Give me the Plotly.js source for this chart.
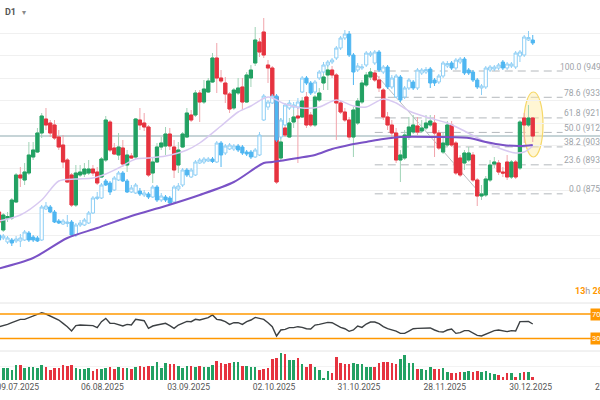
<!DOCTYPE html>
<html>
<head>
<meta charset="utf-8">
<script src="https://cdn.plot.ly/plotly-3.0.1.min.js"></script>
<style>
  html, body { margin: 0; padding: 0; background: #ffffff; }
  #chart { width: 600px; height: 400px; }
</style>
</head>
<body>
<div id="chart"></div>
<script>
// Daily bars, index 0 = oldest visible bar
const mainOpen = [864.8,854,861.2,861.2,870.8,887,884,888.2,897.8,900.8,
912.2,920.6,918.2,917,909.8,905,896,887,869,887,
887.6,888.2,890.6,888.8,885.8,896,918.8,903.2,899,903.2,
893,898.4,897.8,920,918.2,915.8,888.2,894.8,903.8,904.4,
911.6,903.8,893,903.8,909.8,923,923,936.2,930.8,936.8,
942.8,957.2,945.2,942.2,935.6,927.2,936.2,939.8,930.8,945.2,
954.2,966.8,972.8,953,951.2,933.8,897.2,915.2,909.8,918.8,
922.4,921.8,933.8,923,917,932,942.2,947,950,947,
930.2,924.8,920,909.8,918.2,930.8,941,945.8,948.2,944,
938,921.8,917,912.2,896,897.2,909.8,912.8,916.4,913.4,
915.2,917,918.2,912.2,900.8,905,917,906.2,897.2,894.2,
896,899,884,874.4,875,884,893.6,894.2,888.8,894.8,
885.8,894.8,891.2,921.2,917,921.2];
const mainHigh = [867.2,864.2,864.8,873.2,888.2,891.8,894.2,906.8,906.8,915.2,
924.2,927.2,920,920,914,911,897.2,888.2,893,893,
894.2,896,893,891.8,897.8,922.4,920,906.2,912.2,908,
902,900.2,921.2,927.2,924.2,917,897.8,906.2,909.8,915.8,
915.2,908,906.8,912.8,927.2,926,938,938,944,945.2,
960.2,966.2,950,945.8,936.8,939.2,945.2,945.2,948.8,953,
975.8,969.2,981.2,956,952.4,935,921.2,917,921.2,926,
930.2,933.8,936.8,924.8,935,939.2,948.8,953,952.4,948.2,
932,927.2,921.8,927.8,933.2,944,948.8,951.2,950,946.4,
939.2,924.8,920,915.2,902,914,921.8,923,921.8,920,
923,923,923,914,912.2,919.4,919.4,907.4,899,902,
903.8,900.8,885.2,881,886.4,896,897.8,896,891.8,899,
896,896,920,924.2,929,921.8];
const mainLow = [857.6,852.8,858.8,860,870.2,879.8,881,887,896,900.2,
909.2,914,909.8,908,902,891.2,882.2,867.8,867.8,885.8,
885.8,887,886.4,881,885.2,894.8,900.8,899,896,891.8,
888.8,896.6,896.6,914,913.4,885.8,882.2,894.2,902,899,
902,885.2,888.2,903.2,909.2,918.8,921.8,918.8,929.6,936.2,
942.2,936.2,942.2,930.2,924.2,926,935,926,930.2,939.8,
952.4,957.8,957.2,942.2,932,881.6,896,909.8,909.2,915.2,
894.2,921.2,915.2,915.8,915.8,930.8,938,938,945.2,908,
923.6,918.8,908,897.8,917,929.6,939.8,944,942.8,936.8,
920,914,909.2,894.2,882.8,896,908,911.6,911,912.2,
914,915.8,897.8,902,899.6,903.8,903.8,887,885.8,890,
894.8,882.8,868.4,872,873.8,882.8,891.2,887,885.8,884,
884.6,884.6,890,906.2,915.8,906.8];
const mainClose = [858.8,863,862.1,872,887,885.2,888.8,899,902,912.2,
922.4,917,912.2,909.2,903.8,894.8,882.8,869,888.2,888.8,
890.6,890.6,888.2,882.2,896.6,920,902,899.6,903.8,893.6,
899,897.2,920.6,917,915.8,887,894.8,903.8,906.2,911.6,
904.4,890,902,911.6,924.2,920,936.2,930.8,938.6,943.4,
957.2,945.2,943.4,935.6,926.6,938,939.2,930.8,947,950,
968,960.8,959,951.2,933.8,882.8,906.8,911,918.2,921.8,
921.2,931.4,917,917,933.8,936.2,945.8,950,947,930.2,
924.8,920,909.8,926,931.4,942.2,947,948.8,944,939.2,
921.8,917,912.2,896,899,911,915.8,917,912.8,915.2,
918.2,919.4,912.2,903.2,906.2,917,905,888.2,887,900.2,
900.2,884,874.4,875.6,884.6,893,894.8,888.8,888.2,885.8,
894.8,885.8,918.8,917,921.2,910.4];

// Comparison symbol, same price scale
const cmpOpen = [851,849.2,846.8,848,847.4,847.4,848,852.2,849.8,849.2,
848,866.6,867.8,864.8,859.4,857.6,857.9,858.8,851,857,
857,858.2,864.2,872.9,873.2,883.4,882.2,878,884,888.2,
883.4,876.8,876.2,877.4,875,875.6,873.8,879.8,872,873.8,
873.2,870.8,878.6,881,890,885.8,887,894.2,894.8,895.4,
896.6,894.8,906.2,900.2,902.6,902.6,904.4,903.8,900.8,900.8,
897.8,899,920,927.8,930.2,934.4,909.8,917,927.2,927.8,
927.8,936.8,945.2,942.2,936.8,945.2,948.8,953,954.8,957.2,
963.2,969.2,971.6,959,950,951.2,953,959,954.2,960.8,
948.8,951.8,939.8,933.8,945.8,933.8,939.2,942.8,939.2,948.2,
948.8,950.6,944,942.8,946.4,952.4,954.2,951.2,954.8,956.6,
950,948.8,944,939.2,939.8,950,950.6,951.2,954.8,951.2,
952.4,951.8,958.4,959,968,968];
const cmpHigh = [852.2,851.6,850.4,849.2,850.4,851.6,854,853.4,851,850.4,
869,870.8,869,866,860.6,860.6,863,860,858.2,860,
861.2,865.4,874.4,876.8,882.2,884.6,883.4,886.4,889.4,889.4,
884.6,881,882.2,879.2,878,876.8,881,881,876.2,875,
874.4,881,882.2,891.2,891.2,891.2,896,897.2,897.8,897.8,
897.8,907.4,907.4,905.6,906.2,905.6,905.6,905,902,902,
903.2,912.8,935.6,932,935.6,935.6,921.2,930.2,932,930.8,
933.2,946.4,946.4,943.4,944,950,954.8,956,957.2,964.4,
970.4,974,973.4,960.2,954.2,953.6,961.4,961.4,962,962,
953,953,947,947.6,947,940.4,945.2,944,951.2,951.2,
951.8,951.8,945.2,947.6,955.4,955.4,955.4,957.2,957.8,957.8,
951.2,950,945.2,941.6,952.4,953,953,954.2,956,954.8,
954.8,961.4,962,971,973.4,971];
const cmpLow = [846.8,848,845.6,844.4,846.2,843.8,847.4,846.8,846.8,846.8,
847.4,866,864.2,858.2,857.6,857,855.8,849.8,849.8,855.8,
856.4,857.6,863.6,872,872.6,880.4,875,877.4,883.4,882.8,
876.2,876.2,875.6,874.4,873.8,872.6,873.2,870.8,870.8,870.8,
869,869.6,877.4,879.8,885.8,885.2,886.4,893.6,893.6,894.8,
894.2,894.2,891.8,899,902,901.4,900.8,899,898.4,896.6,
897.2,898.4,919.4,926,929.6,906.8,908.6,916.4,926,926,
926.6,936.2,941,935,935.6,944,947.6,951.8,953.6,956,
962,968,957.8,941,948.8,950,951.8,957.8,953,948.8,
947.6,938.6,938.6,933.2,930.8,932.6,938,938,938,947,
947.6,939.2,940.4,941.6,945.2,951.2,950,950,953.6,947,
947,942.8,938.6,935,938.6,948.8,949.4,950,950,950,
951.2,950.6,954.8,957.8,967.4,965];
const cmpClose = [848,850.4,849.2,846.2,848.6,849.2,852.8,848,848,847.4,
867.8,868.4,864.8,858.8,858.2,859.4,858.8,851,857,858.2,
860,864.2,873.2,873.8,881,881,876.8,885.2,888.2,883.4,
876.8,879.2,881,875.6,876.2,873.8,879.8,872,874.4,872,
870.2,879.8,880.4,890,887,890,894.8,896,896.6,896.6,
895.1,906.2,899,904.4,905,904.4,902,900.2,899.6,897.8,
902,911,934.4,930.8,934.4,908,920,929,930.2,929,
930.8,945.2,942.2,936.2,942.8,948.8,953,954.8,956,963.2,
969.2,971.6,959,948.8,952.4,951.8,960.2,960.2,960.8,950,
951.8,939.8,945.2,946.4,932,939.2,944,939.2,950,950,
950.3,942.2,942.2,946.4,954.2,953.9,951.2,956,956.6,948.2,
948.2,944,939.8,940.4,951.2,951.8,951.8,953,951.2,953.6,
953.6,960.2,960.8,969.8,969.5,966.2];

// RSI(14) per bar
const rsi = [49.3,51,53,55.8,59.1,61.3,61.3,64,65.6,68.9,
72.2,70,66.7,64.5,60.2,54.8,49.3,42.2,51,52,
52,52,51,47.7,57.5,62.9,54.8,54.8,53.1,50.4,
53.1,52,61.3,60.2,59.1,46.6,50.4,52,53.7,54.8,
51,46.6,52,54.8,58,57.5,61.3,60.2,62.4,64,
68.4,61.3,60.2,57.5,53.1,55.8,55.8,53.1,57.5,60.2,
64.5,62.9,61.3,55.8,49.3,34.1,43.9,45,47.7,47.7,
49.3,48.2,46,45.5,52,53.1,54.8,56.4,55.8,51.5,
48.2,46,41.7,43.9,50.4,48.2,53.7,56.9,56.9,54.2,
49.3,46,44.4,42.2,38.4,38.4,42.2,46,46.6,46.6,
47.7,47.2,43.9,41.2,40.6,43.9,45.5,38.4,39.5,42.8,
42.8,38.4,35.2,34.1,37.3,40.6,42.8,43.9,42.2,41.2,
42.8,42.2,57.5,57.5,58,53.7];

// Tick volume per bar (thousands)
const volume = [11.7,11.7,11.7,10,15,15,11.7,12.7,12.7,12.3,
15,12.7,10,12.3,11.7,15,14.3,15,11.7,10.7,
10.7,11.7,9.3,10.7,10.7,11.7,12.7,10.7,12.7,11.7,
11.7,11,13.3,14.3,12.7,14.3,14,17.7,11.7,16.7,
15.7,15.7,14,11.7,14,14,13.3,14,13.3,12.7,
15,19.3,17.3,16,17.3,17.7,17.7,14,14,12.7,
12.7,10,11,11.7,20.7,21.7,26.7,26,20,20,
21.7,16,12.7,15.7,12.7,10,2,9.3,7.3,22.7,
17.3,16,16,17.3,16,16,13.3,12.7,12.7,17.3,
17.7,17.7,17.3,16,21,24.7,17.3,16.7,10.7,11.3,
10,12.7,10.7,10.7,11.7,8.3,7.3,6.7,8.3,8.3,
9.3,8.3,9.3,8.3,9.3,6.7,6,5,2.7,6.7,
6.7,2.7,7.3,7.7,7.7,3.3];

// Moving averages (bar index, price)
const maSlowX = [0,8,16,23,31,39,47,55,62,64,70,74,78,82,86,90,94,102,110,114,118,122,125];
const maSlowY = [830.9,837.2,849.2,855.2,862.4,868.4,875,882.8,894.2,894.8,897.2,899,902.6,905,906.8,908.6,909.8,909.8,909.2,906.8,905,904.4,905];
const maFastX = [0,5,10,14,18,22,25,28,32,35,39,44,47,52,56,59,63,67,71,75,79,83,86,90,93,96,100,105,109,113,117,121,123,125];
const maFastY = [859.4,863,872,883.4,884.6,885.2,887.6,891.2,896.6,897.2,898.4,902,906.2,916.4,924.8,928.4,933.8,929.6,927.2,927.8,932,928.4,927.8,932.6,930.2,925.4,921.8,918.2,913.4,908,903.2,900.2,900.8,904.4];

// Fibonacci retracement
const fibLevels = [0, 23.6, 38.2, 50, 61.8, 78.6, 100];
const fibLow = 875.7, fibHigh = 949.4;
const fibFrom = 88, fibTo = 132;

// Trend line and highlight ellipse (bar index, price)
const trendX = [88, 112.6];
const trendY = [948.2, 876.2];
const highlightX = [122.9, 127.4];
const highlightY = [897.8, 936.8];

// Date labels
const tickPos = [4.4, 24.2, 44.4, 64.4, 84.3, 104.4, 124.5];
const tickText = ['09.07.2025', '06.08.2025', '03.09.2025', '02.10.2025', '31.10.2025', '28.11.2025', '30.12.2025'];
const nextTickText = '27.01.2026';

// Horizontal grid on the price pane
const priceGrid = [972.2, 958.7, 945.2, 931.7, 918.2, 904.7, 891.2, 877.7, 864.2, 850.7, 837.2];

const FONT = '"Roboto", "Liberation Sans", sans-serif';
const GREEN = '#22a163', RED = '#e6333f';
const GREEN_WICK = '#9fd3b6', RED_WICK = '#f1a4ab';
const BLUE = '#4fb6f1', BLUE_LINE = '#8fcff5';
const ORANGE = '#ff9800';

const idx = mainOpen.map((_, i) => i);
const bodyHigh = mainOpen.map((o, i) => Math.max(o, mainClose[i]));
const bodyLow = mainOpen.map((o, i) => Math.min(o, mainClose[i]));
const volColors = mainOpen.map((o, i) => mainClose[i] >= o ? GREEN : RED);
const lastClose = mainClose[mainClose.length - 1];

const traces = [
  // wicks (lighter)
  {
    type: 'candlestick', x: idx, open: mainOpen, high: mainHigh, low: mainLow, close: mainClose,
    xaxis: 'x', yaxis: 'y', whiskerwidth: 0,
    increasing: { line: { color: GREEN_WICK, width: 1 }, fillcolor: GREEN_WICK },
    decreasing: { line: { color: RED_WICK, width: 1 }, fillcolor: RED_WICK },
    hoverinfo: 'skip'
  },
  // bodies
  {
    type: 'candlestick', x: idx, open: mainOpen, high: bodyHigh, low: bodyLow, close: mainClose,
    xaxis: 'x', yaxis: 'y', whiskerwidth: 0,
    increasing: { line: { color: GREEN, width: 1 }, fillcolor: GREEN },
    decreasing: { line: { color: RED, width: 1 }, fillcolor: RED },
    hoverinfo: 'skip'
  },
  // comparison symbol
  {
    type: 'candlestick', x: idx, open: cmpOpen, high: cmpHigh, low: cmpLow, close: cmpClose,
    xaxis: 'x', yaxis: 'y', whiskerwidth: 0,
    increasing: { line: { color: BLUE_LINE, width: 1 }, fillcolor: '#ffffff' },
    decreasing: { line: { color: BLUE, width: 1 }, fillcolor: BLUE },
    hoverinfo: 'skip'
  },
  {
    type: 'scatter', mode: 'lines', x: maFastX, y: maFastY, xaxis: 'x', yaxis: 'y',
    line: { color: '#d8c9f1', width: 1.5, shape: 'spline', smoothing: 0.8 }, hoverinfo: 'skip'
  },
  {
    type: 'scatter', mode: 'lines', x: maSlowX, y: maSlowY, xaxis: 'x', yaxis: 'y',
    line: { color: '#7a52c6', width: 2, shape: 'spline', smoothing: 0.8 }, hoverinfo: 'skip'
  },
  {
    type: 'scatter', mode: 'lines', x: idx, y: rsi, xaxis: 'x', yaxis: 'y2',
    line: { color: '#3c4043', width: 1.4 }, hoverinfo: 'skip'
  },
  {
    type: 'bar', x: idx, y: volume, xaxis: 'x', yaxis: 'y3', width: 0.6,
    marker: { color: volColors, line: { width: 0 } }, hoverinfo: 'skip'
  }
];

const shapes = [];
// pane separators
shapes.push({ type: 'line', xref: 'paper', yref: 'paper', x0: 0, x1: 1, y0: 0.2425, y1: 0.2425, line: { color: '#e4e4e4', width: 1 } });
shapes.push({ type: 'line', xref: 'paper', yref: 'paper', x0: 0, x1: 1, y0: 0.1225, y1: 0.1225, line: { color: '#e4e4e4', width: 1 } });
// last price line
shapes.push({ type: 'line', xref: 'paper', yref: 'y', x0: 0, x1: 1, y0: lastClose, y1: lastClose, layer: 'below', line: { color: '#b3c6ca', width: 1.5 } });
// fibonacci levels
fibLevels.forEach(lv => {
  const p = fibLow + (fibHigh - fibLow) * lv / 100;
  shapes.push({ type: 'line', xref: 'x', yref: 'y', x0: fibFrom, x1: fibTo, y0: p, y1: p, layer: 'below', line: { color: '#b4b8bc', width: 1, dash: '8px,5px' } });
});
// trend line
shapes.push({ type: 'line', xref: 'x', yref: 'y', x0: trendX[0], x1: trendX[1], y0: trendY[0], y1: trendY[1], layer: 'below', line: { color: '#b9bcbf', width: 1 } });
// highlight
shapes.push({ type: 'circle', xref: 'x', yref: 'y', x0: highlightX[0], x1: highlightX[1], y0: highlightY[0], y1: highlightY[1], layer: 'below', fillcolor: 'rgba(255,236,160,0.45)', line: { color: '#f6d86a', width: 1.2 } });
// RSI bands
[70, 30].forEach(v => {
  shapes.push({ type: 'line', xref: 'paper', yref: 'y2', x0: 0, x1: 1, y0: v, y1: v, line: { color: ORANGE, width: 1.5 } });
});

const annotations = [];
annotations.push({ xref: 'paper', yref: 'paper', x: 0.005, y: 0.97, xanchor: 'left', yanchor: 'middle', showarrow: false,
  text: '<b>D1</b>', font: { family: FONT, size: 9, color: '#555555' } });
annotations.push({ xref: 'paper', yref: 'paper', x: 0.034, y: 0.97, xanchor: 'left', yanchor: 'middle', showarrow: false,
  text: '▾', font: { family: FONT, size: 8, color: '#8a8a8a' } });
fibLevels.forEach(lv => {
  const p = fibLow + (fibHigh - fibLow) * lv / 100;
  annotations.push({ xref: 'paper', yref: 'y', x: 1.029, y: p, xanchor: 'right', yanchor: 'middle', yshift: 4, showarrow: false,
    text: lv.toFixed(1) + ' (' + p.toFixed(2) + ')', font: { family: FONT, size: 8.5, color: '#9ea3a8' } });
});
[70, 30].forEach(v => {
  annotations.push({ xref: 'paper', yref: 'y2', x: 0.983, y: v, xanchor: 'left', yanchor: 'middle', showarrow: false,
    text: v.toFixed(2), bgcolor: ORANGE, borderpad: 1, font: { family: FONT, size: 7.5, color: '#ffffff' } });
});
annotations.push({ xref: 'paper', yref: 'paper', x: 0.955, y: 0.2725, xanchor: 'left', yanchor: 'middle', showarrow: false,
  text: '<b><span style="color:' + ORANGE + '">13</span></b><span style="color:#9a9a9a">h</span> <b><span style="color:' + ORANGE + '">28</span></b><span style="color:#9a9a9a">m</span>',
  font: { family: FONT, size: 9, color: ORANGE } });
annotations.push({ xref: 'paper', yref: 'paper', x: 1.028, y: 0.0325, xanchor: 'center', yanchor: 'middle', showarrow: false,
  text: nextTickText, font: { family: FONT, size: 8.5, color: '#555555' } });

const layout = {
  width: 600, height: 400,
  margin: { l: 0, r: 0, t: 0, b: 0, pad: 0 },
  paper_bgcolor: '#ffffff', plot_bgcolor: '#ffffff',
  showlegend: false, hovermode: false,
  boxgap: 0.25, boxgroupgap: 0, bargap: 0,
  xaxis: {
    domain: [0, 1], range: [0.234, 140.75], anchor: 'y3',
    showgrid: false, zeroline: false, showline: false, ticks: '',
    tickmode: 'array', tickvals: tickPos, ticktext: tickText,
    tickfont: { family: FONT, size: 8.5, color: '#555555' },
    ticklabeloverflow: 'allow', automargin: false,
    rangeslider: { visible: false }, fixedrange: true
  },
  yaxis: {
    domain: [0.2575, 1], range: [813.8, 992], anchor: 'x',
    tickmode: 'array', tickvals: priceGrid, showticklabels: false, ticks: '',
    showgrid: true, gridcolor: '#f0f0f0', gridwidth: 1, zeroline: false, showline: false, fixedrange: true
  },
  yaxis2: {
    domain: [0.1225, 0.2425], range: [9.6, 88], anchor: 'x',
    showgrid: false, showticklabels: false, ticks: '', zeroline: false, showline: false, fixedrange: true
  },
  yaxis3: {
    domain: [0.05, 0.1225], range: [0, 29], anchor: 'x',
    tickmode: 'array', tickvals: [14], showticklabels: false, ticks: '',
    showgrid: true, gridcolor: '#f3f3f3', zeroline: false, showline: false, fixedrange: true
  },
  shapes: shapes,
  annotations: annotations
};

Plotly.newPlot('chart', traces, layout, { displayModeBar: false, staticPlot: true });
</script>
</body>
</html>
